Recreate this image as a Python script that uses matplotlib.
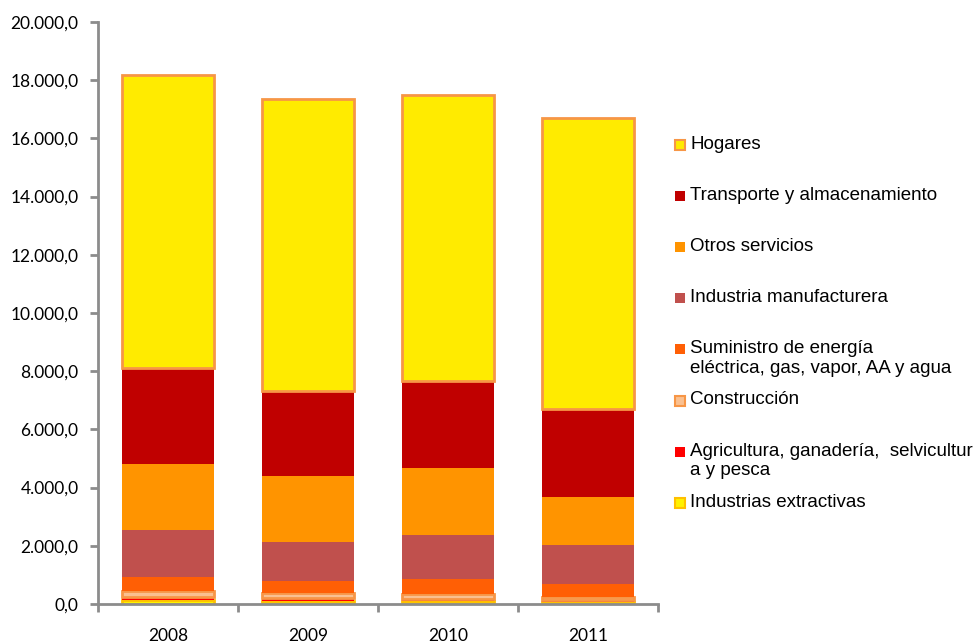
import matplotlib
matplotlib.use("Agg")
import matplotlib.pyplot as plt
from matplotlib.patches import Rectangle
from matplotlib.ticker import FuncFormatter, FixedLocator, NullFormatter
import numpy as np

years = ["2008", "2009", "2010", "2011"]

# stacked from the bottom up
extractivas = [140, 120, 100, 80]
agricultura = [110, 70, 70, 50]
construccion = [200, 200, 180, 110]
suministro = [490, 390, 500, 450]
manufacturera = [1590, 1340, 1520, 1330]
otros = [2280, 2290, 2290, 1650]
transporte = [3290, 2910, 3000, 3020]
hogares = [10080, 10020, 9830, 10000]

series = [
    ("Industrias extractivas", extractivas, "#FFF200", "#FFC000"),
    ("Agricultura, ganadería,  selvicultur\na y pesca", agricultura, "#FF0000", None),
    ("Construcción", construccion, "#FAC090", "#F79646"),
    ("Suministro de energía\neléctrica, gas, vapor, AA y agua", suministro, "#FF5F05", None),
    ("Industria manufacturera", manufacturera, "#C0504D", None),
    ("Otros servicios", otros, "#FF9400", None),
    ("Transporte y almacenamiento", transporte, "#C00000", None),
    ("Hogares", hogares, "#FFEB00", "#F79646"),
]

fig = plt.figure(figsize=(9.77, 6.44), dpi=100)
ax = fig.add_axes([98 / 977, 1 - 604 / 644, 560 / 977, 582 / 644])

x = np.arange(len(years))
bottom = np.zeros(len(years))
for name, vals, fc, ec in series:
    if ec is None:
        ax.bar(x, vals, 0.66, bottom=bottom, color=fc, edgecolor="none")
    else:
        ax.bar(x, vals, 0.66, bottom=bottom, color=fc, edgecolor=ec, linewidth=2)
    bottom += np.array(vals)

ax.set_xlim(-0.5, len(years) - 0.5)
ax.set_ylim(0, 20000)
ax.set_yticks(np.arange(0, 20001, 2000))
ax.yaxis.set_major_formatter(FuncFormatter(lambda v, p: f"{v:,.1f}".replace(",", "X").replace(".", ",").replace("X", ".")))

ax.xaxis.set_major_locator(FixedLocator(np.arange(-0.5, len(years), 1.0)))
ax.xaxis.set_major_formatter(NullFormatter())
ax.xaxis.set_minor_locator(FixedLocator(x))
ax.set_xticklabels(years, minor=True)

for s in ["top", "right"]:
    ax.spines[s].set_visible(False)
for s in ["left", "bottom"]:
    ax.spines[s].set_color("#8C8C8C")
    ax.spines[s].set_linewidth(2)

ax.tick_params(axis="y", direction="out", length=6, width=2, color="#8C8C8C", labelsize=12.5, pad=8)
ax.tick_params(axis="x", which="major", direction="out", length=6, width=2, color="#8C8C8C")
ax.tick_params(axis="x", which="minor", length=0, labelsize=12.5, pad=17)
for lab in ax.get_yticklabels() + ax.get_xticklabels(minor=True):
    lab.set_fontfamily("Lato")

# legend, Excel style: one entry every ~51 px, first text line aligned with the key
for i, (name, vals, fc, ec) in enumerate(reversed(series)):
    ypix = 145 + 51.1 * i
    yf = 1 - ypix / 644
    fig.add_artist(Rectangle((675 / 977, yf - 5 / 644), 10 / 977, 10 / 644,
                             transform=fig.transFigure, facecolor=fc,
                             edgecolor=ec if ec else "none", linewidth=1.5))
    fig.text(690 / 977, yf + 9 / 644, name, fontsize=13.5, family="Liberation Sans",
             va="top", ha="left", linespacing=1.2)

fig.savefig("out.png", dpi=100)
